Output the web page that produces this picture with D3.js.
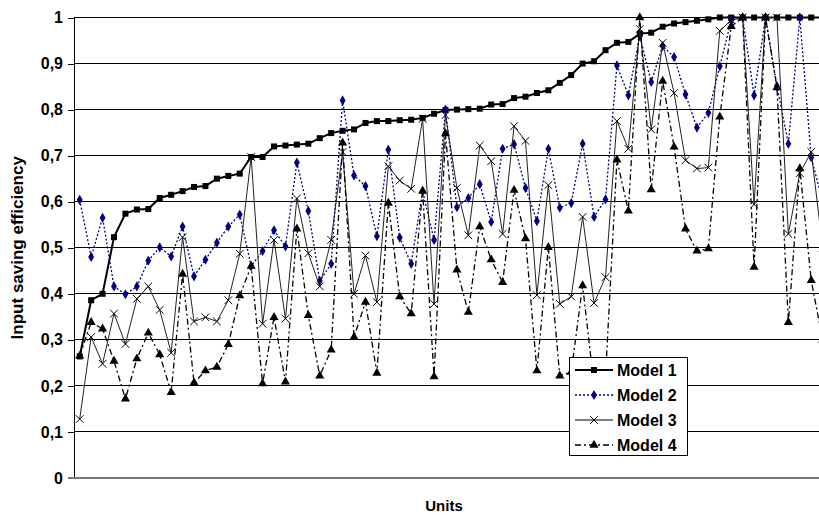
<!DOCTYPE html>
<html>
<head>
<meta charset="utf-8">
<script src="https://cdn.jsdelivr.net/npm/d3@7"></script>
<style>
  body { margin: 0; background: #fff; }
  text { font-family: "Liberation Sans", Arial, sans-serif; font-weight: bold; }
</style>
</head>
<body>
<script>
// values, one per unit
var model1 = [0.264,0.386,0.400,0.523,0.574,0.583,0.584,0.608,0.615,0.623,
              0.632,0.634,0.650,0.656,0.661,0.697,0.697,0.720,0.722,0.724,
              0.726,0.738,0.749,0.754,0.757,0.771,0.775,0.775,0.777,0.778,
              0.782,0.791,0.799,0.800,0.801,0.802,0.811,0.812,0.825,0.828,
              0.836,0.842,0.858,0.875,0.900,0.905,0.929,0.945,0.947,0.965,
              0.967,0.980,0.987,0.990,0.993,0.996,1,1,1,1,
              1,1,1,1,1,1];
var model2 = [0.604,0.480,0.565,0.416,0.399,0.416,0.472,0.501,0.481,0.546,
              0.438,0.474,0.511,0.546,0.572,0.460,0.493,0.538,0.503,0.685,
              0.580,0.428,0.465,0.820,0.657,0.634,0.525,0.713,0.522,0.465,
              0.623,0.517,0.800,0.588,0.608,0.638,0.556,0.715,0.725,0.630,
              0.558,0.715,0.587,0.597,0.726,0.567,0.605,0.896,0.831,0.960,
              0.860,0.938,0.914,0.833,0.761,0.793,0.894,0.994,1,0.831,
              1,0.851,0.726,1,0.696,0.600];
var model3 = [0.128,0.306,0.248,0.357,0.291,0.389,0.416,0.365,0.272,0.523,
              0.340,0.349,0.340,0.386,0.487,0.697,0.335,0.517,0.346,0.607,
              0.488,0.416,0.517,0.708,0.400,0.483,0.382,0.677,0.646,0.628,
              0.780,0.378,0.788,0.630,0.527,0.722,0.688,0.530,0.764,0.732,
              0.397,0.636,0.378,0.394,0.567,0.380,0.436,0.775,0.715,0.975,
              0.757,0.945,0.836,0.690,0.672,0.674,0.971,0.994,1,0.594,
              1,1,0.530,0.662,0.708,0.500];
var model4 = [0.265,0.338,0.324,0.254,0.172,0.259,0.315,0.268,0.186,0.443,
              0.207,0.233,0.241,0.290,0.396,0.460,0.205,0.349,0.209,0.541,
              0.353,0.222,0.278,0.728,0.306,0.382,0.228,0.597,0.394,0.357,
              0.623,0.220,0.748,0.452,0.360,0.546,0.474,0.425,0.625,0.520,
              0.233,0.501,0.222,0.230,0.418,0.200,0.220,0.691,0.580,1,
              0.626,0.862,0.719,0.541,0.493,0.498,0.784,0.981,1,0.458,
              1,0.848,0.338,0.672,0.429,0.300];
var units = d3.range(1, model1.length + 1);
var seriesNames = ["Model 1", "Model 2", "Model 3", "Model 4"];
var yTicks = [0, 0.1, 0.2, 0.3, 0.4, 0.5, 0.6, 0.7, 0.8, 0.9, 1];

var w = 819, h = 519;
var left = 74, band = 11.43;

var svg = d3.select("body").append("svg")
    .attr("width", w)
    .attr("height", h);

var x = d3.scaleBand()
    .domain(units)
    .range([left, left + band * units.length]);

var y = d3.scaleLinear()
    .domain([0, 1])
    .range([478, 17.5]);

// gridlines
svg.selectAll(".grid")
    .data(yTicks.slice(1))
    .enter()
    .append("line")
    .attr("class", "grid")
    .attr("x1", left)
    .attr("x2", w)
    .attr("y1", function(d){ return y(d); })
    .attr("y2", function(d){ return y(d); })
    .attr("stroke", "#000")
    .attr("shape-rendering", "crispEdges");

var yAxis = d3.axisLeft(y)
    .tickValues(yTicks)
    .tickSize(6)
    .tickFormat(function(d){ return d3.format("")(d).replace(".", ","); });

var yg = svg.append("g")
    .attr("transform", "translate(" + left + ",0)")
    .call(yAxis);
yg.select(".domain").attr("stroke", "#000").attr("shape-rendering", "crispEdges");
yg.selectAll(".tick line").attr("stroke", "#000").attr("shape-rendering", "crispEdges");
yg.selectAll(".tick text")
    .attr("x", -11)
    .attr("font-size", 16)
    .attr("font-family", "Liberation Sans, Arial, sans-serif")
    .attr("font-weight", "bold")
    .attr("fill", "#000");

// x axis line
svg.append("line")
    .attr("x1", left - 6)
    .attr("x2", w)
    .attr("y1", y(0))
    .attr("y2", y(0))
    .attr("stroke", "#777")
    .attr("stroke-width", 1.5)
    .attr("shape-rendering", "crispEdges");

svg.append("text")
    .attr("transform", "translate(23," + ((y(0) + y(1)) / 2) + ") rotate(-90)")
    .attr("text-anchor", "middle")
    .attr("font-size", 17)
    .text("Input saving efficiency");

svg.append("text")
    .attr("x", 444)
    .attr("y", 511)
    .attr("text-anchor", "middle")
    .attr("font-size", 15)
    .text("Units");

var cx = function(i){ return x(units[i]) + x.bandwidth() / 2; };

var styles = [
    { data: model1, color: "#000", width: 2, dash: null, marker: "square" },
    { data: model2, color: "#000080", width: 1.3, dash: "2,2", marker: "diamond" },
    { data: model3, color: "#222", width: 1, dash: null, marker: "cross" },
    { data: model4, color: "#000", width: 1.3, dash: "6,3,2,3", marker: "triangle" }
];

var symbols = {
    square: d3.symbol().type(d3.symbolSquare).size(36),
    diamond: d3.symbol().type(d3.symbolDiamond).size(30),
    cross: d3.symbol().type(d3.symbolX).size(40),
    triangle: d3.symbol().type(d3.symbolTriangle).size(36)
};

var line = d3.line()
    .x(function(d, i){ return cx(i); })
    .y(function(d){ return y(d); });

styles.forEach(function(s){
    svg.append("path")
        .datum(s.data)
        .attr("d", line)
        .attr("fill", "none")
        .attr("stroke", s.color)
        .attr("stroke-width", s.width)
        .attr("stroke-dasharray", s.dash);

    svg.selectAll(".m-" + s.marker)
        .data(s.data)
        .enter()
        .append("path")
        .attr("class", "m-" + s.marker)
        .attr("transform", function(d, i){ return "translate(" + cx(i) + "," + y(d) + ")"; })
        .attr("d", symbols[s.marker])
        .attr("fill", s.marker == "cross" ? "none" : s.color)
        .attr("stroke", s.marker == "cross" ? "#000" : "none")
        .attr("stroke-width", 1);
});

// legend
var lg = svg.append("g").attr("transform", "translate(569,357)");
lg.append("rect")
    .attr("width", 118)
    .attr("height", 98)
    .attr("fill", "#fff")
    .attr("stroke", "#000")
    .attr("shape-rendering", "crispEdges");

var items = lg.selectAll(".item")
    .data(seriesNames)
    .enter()
    .append("g")
    .attr("class", "item")
    .attr("transform", function(d, i){ return "translate(0," + (13 + i * 25) + ")"; });

items.append("line")
    .attr("x1", 6)
    .attr("x2", 44)
    .attr("stroke", function(d, i){ return i == 2 ? "#808080" : styles[i].color; })
    .attr("stroke-width", function(d, i){ return i == 2 ? 2 : styles[i].width; })
    .attr("stroke-dasharray", function(d, i){ return styles[i].dash; });

items.append("path")
    .attr("transform", "translate(25,0)")
    .attr("d", function(d, i){ return symbols[styles[i].marker](); })
    .attr("fill", function(d, i){ return styles[i].marker == "cross" ? "none" : styles[i].color; })
    .attr("stroke", function(d, i){ return styles[i].marker == "cross" ? "#000" : "none"; });

items.append("text")
    .attr("x", 48)
    .attr("y", 6)
    .attr("font-size", 16)
    .text(function(d){ return d; });
</script>
</body>
</html>
